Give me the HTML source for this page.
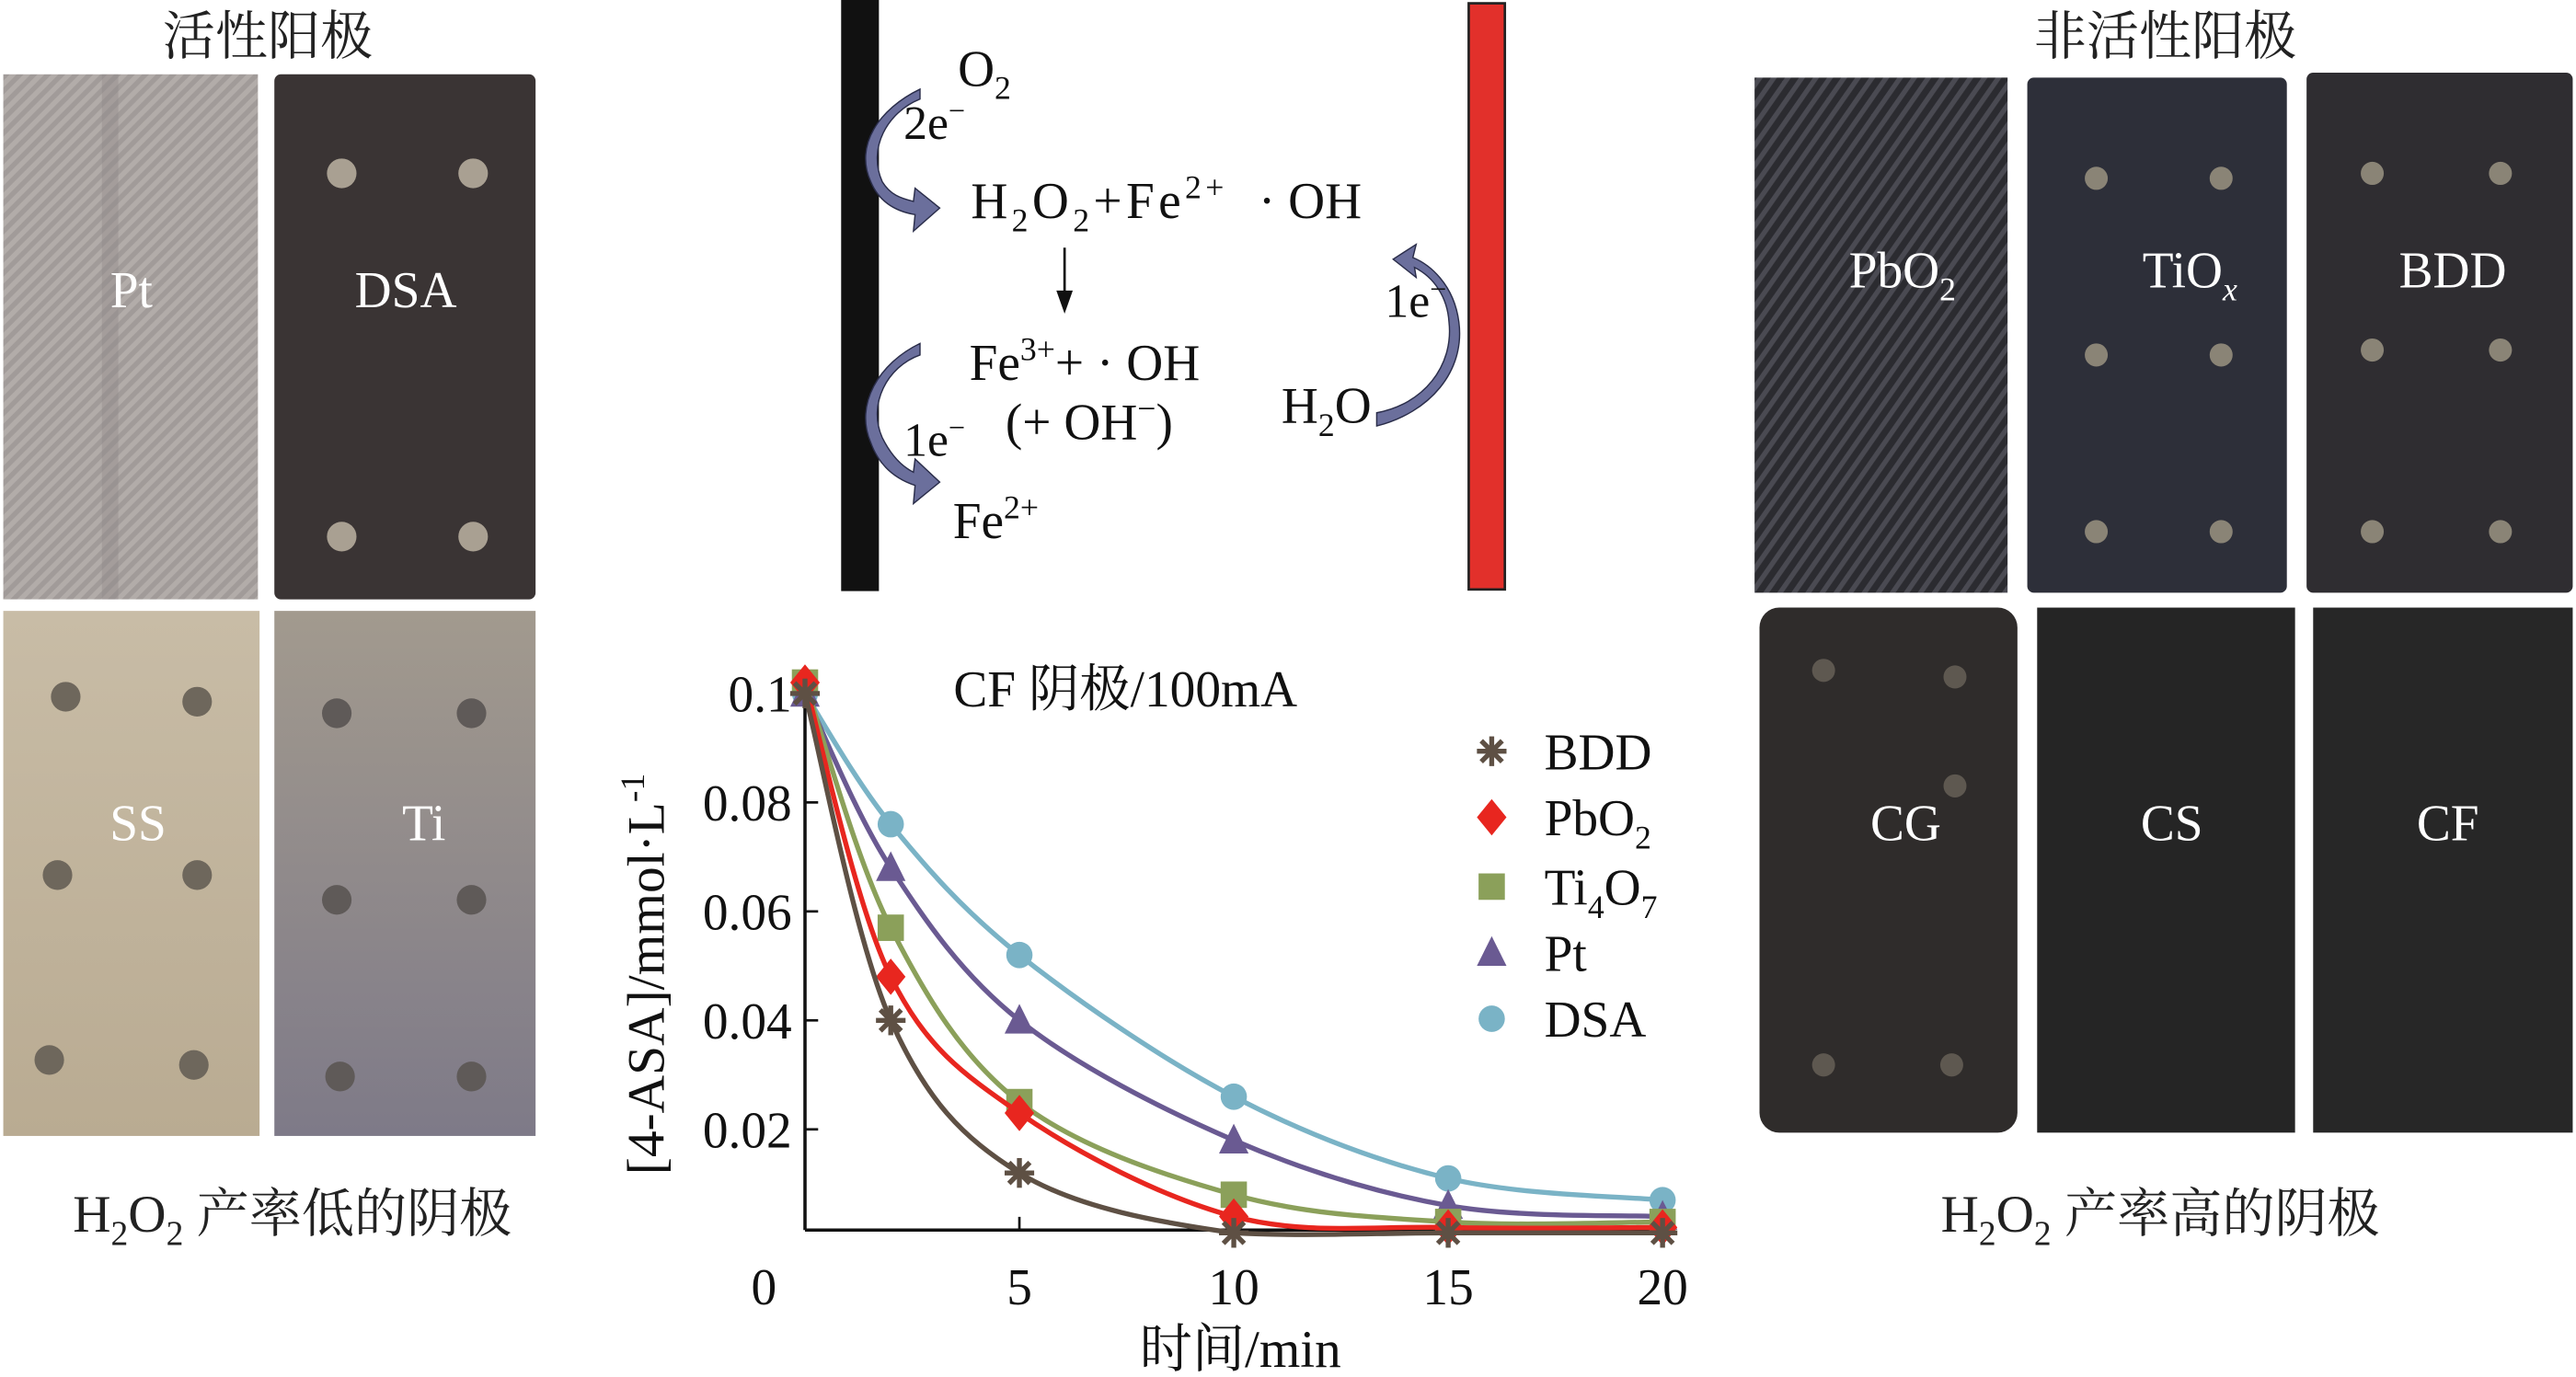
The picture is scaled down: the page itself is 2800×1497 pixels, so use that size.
<!DOCTYPE html>
<html><head><meta charset="utf-8">
<style>
html,body{margin:0;padding:0;background:#fff;}
svg{display:block;}
text{font-family:"Liberation Serif","Noto Serif CJK SC",serif;}
</style></head>
<body>
<svg id="root" width="2800" height="1497" viewBox="0 0 1568 834" preserveAspectRatio="none" xmlns="http://www.w3.org/2000/svg">
<defs>
<pattern id="weave" width="6" height="6" patternUnits="userSpaceOnUse" patternTransform="rotate(45)">
<rect width="6" height="6" fill="#a19b99"/><rect width="3" height="6" fill="#b2aca9"/></pattern>
<pattern id="weave2" width="7" height="7" patternUnits="userSpaceOnUse" patternTransform="rotate(35)">
<rect width="7" height="7" fill="#2b2b30"/><rect width="3" height="7" fill="#4a4a52"/></pattern>
<linearGradient id="ssg" x1="0" y1="0" x2="0" y2="1"><stop offset="0" stop-color="#c8bca6"/><stop offset="1" stop-color="#b9ab92"/></linearGradient>
<linearGradient id="tig" x1="0" y1="0" x2="0" y2="1"><stop offset="0" stop-color="#a29a8e"/><stop offset="1" stop-color="#7e7a88"/></linearGradient>
</defs>

<text x="163" y="33" font-size="32" text-anchor="middle" fill="#222">活性阳极</text>
<g>
<rect x="2" y="45" width="155" height="318" fill="url(#weave)"/>
<rect x="62" y="45" width="10" height="318" fill="#8f8886" opacity="0.4"/>
<text x="80" y="186" font-size="31" fill="#fff" text-anchor="middle">Pt</text></g>
<g>
<rect x="167" y="45" width="159" height="318" rx="4" fill="#3a3434"/>
<circle cx="208" cy="105" r="9" fill="#a9a092"/><circle cx="288" cy="105" r="9" fill="#a9a092"/>
<circle cx="208" cy="325" r="9" fill="#a9a092"/><circle cx="288" cy="325" r="9" fill="#a9a092"/>
<text x="247" y="186" font-size="31" fill="#fff" text-anchor="middle">DSA</text></g>
<g>
<rect x="2" y="370" width="156" height="318" fill="url(#ssg)"/>
<circle cx="40" cy="422" r="9" fill="#6e675c"/><circle cx="120" cy="425" r="9" fill="#6e675c"/>
<circle cx="35" cy="530" r="9" fill="#6e675c"/><circle cx="120" cy="530" r="9" fill="#6e675c"/>
<circle cx="30" cy="642" r="9" fill="#6e675c"/><circle cx="118" cy="645" r="9" fill="#6e675c"/>
<text x="84" y="509" font-size="31" fill="#fff" text-anchor="middle">SS</text></g>
<g>
<rect x="167" y="370" width="159" height="318" fill="url(#tig)"/>
<circle cx="205" cy="432" r="9" fill="#5f5a58"/><circle cx="287" cy="432" r="9" fill="#5f5a58"/>
<circle cx="205" cy="545" r="9" fill="#5f5a58"/><circle cx="287" cy="545" r="9" fill="#5f5a58"/>
<circle cx="207" cy="652" r="9" fill="#5f5a58"/><circle cx="287" cy="652" r="9" fill="#5f5a58"/>
<text x="258" y="509" font-size="31" fill="#fff" text-anchor="middle">Ti</text></g>
<text x="178" y="746" font-size="32" text-anchor="middle" fill="#222">H<tspan font-size="21" dy="8">2</tspan><tspan dy="-8">O</tspan><tspan font-size="21" dy="8">2</tspan><tspan dy="-8"> 产率低的阴极</tspan></text>

<text x="1318" y="33" font-size="32" text-anchor="middle" fill="#222">非活性阳极</text>
<g>
<rect x="1068" y="47" width="154" height="312" fill="url(#weave2)"/>
<text x="1158" y="174" font-size="31" fill="#fff" text-anchor="middle">PbO<tspan font-size="20" dy="8">2</tspan></text></g>
<g>
<rect x="1234" y="47" width="158" height="312" rx="4" fill="#2d2f39"/>
<circle cx="1276" cy="108" r="7" fill="#8a8476"/><circle cx="1352" cy="108" r="7" fill="#8a8476"/>
<circle cx="1276" cy="215" r="7" fill="#8a8476"/><circle cx="1352" cy="215" r="7" fill="#8a8476"/>
<circle cx="1276" cy="322" r="7" fill="#8a8476"/><circle cx="1352" cy="322" r="7" fill="#8a8476"/>
<text x="1333" y="174" font-size="31" fill="#fff" text-anchor="middle">TiO<tspan font-size="20" dy="8" font-style="italic">x</tspan></text></g>
<g>
<rect x="1404" y="44" width="162" height="315" rx="4" fill="#2f2d31"/>
<circle cx="1444" cy="105" r="7" fill="#8a8476"/><circle cx="1522" cy="105" r="7" fill="#8a8476"/>
<circle cx="1444" cy="212" r="7" fill="#8a8476"/><circle cx="1522" cy="212" r="7" fill="#8a8476"/>
<circle cx="1444" cy="322" r="7" fill="#8a8476"/><circle cx="1522" cy="322" r="7" fill="#8a8476"/>
<text x="1493" y="174" font-size="31" fill="#fff" text-anchor="middle">BDD</text></g>
<g>
<rect x="1071" y="368" width="157" height="318" rx="12" fill="#2f2c2b"/>
<circle cx="1110" cy="406" r="7" fill="#5e5850"/><circle cx="1190" cy="410" r="7" fill="#5e5850"/>
<circle cx="1190" cy="476" r="7" fill="#5e5850"/><circle cx="1110" cy="645" r="7" fill="#5e5850"/><circle cx="1188" cy="645" r="7" fill="#5e5850"/>
<text x="1160" y="509" font-size="31" fill="#fff" text-anchor="middle">CG</text></g>
<g>
<rect x="1240" y="368" width="157" height="318" fill="#252525"/>
<text x="1322" y="509" font-size="31" fill="#fff" text-anchor="middle">CS</text></g>
<g>
<rect x="1408" y="368" width="158" height="318" fill="#272727"/>
<text x="1490" y="509" font-size="31" fill="#fff" text-anchor="middle">CF</text></g>
<text x="1315" y="746" font-size="32" text-anchor="middle" fill="#222">H<tspan font-size="21" dy="8">2</tspan><tspan dy="-8">O</tspan><tspan font-size="21" dy="8">2</tspan><tspan dy="-8"> 产率高的阴极</tspan></text>

<g fill="#111">
<rect x="512" y="0" width="23" height="358" fill="#111"/>
<rect x="894" y="2" width="22" height="355" fill="#e2302b" stroke="#222" stroke-width="1.5"/>
<g fill="#6b6f9c" stroke="#2a2d4a" stroke-width="0.8">
<path d="M560,60 C540,68 528,90 537,110 C542,118 548,120 556,122 L557,114 L572,126 L556,140 L557,130 C545,128 535,122 530,110 C520,88 535,66 560,54 Z"/>
<path d="M560,215 C540,222 528,245 537,265 C542,275 548,282 556,286 L557,278 L572,292 L556,305 L557,294 C545,290 535,282 530,268 C520,245 535,220 560,208 Z"/>
<path d="M838,258 C870,250 892,225 888,195 C885,172 870,160 860,156 L862,148 L848,157 L862,168 L861,162 C873,168 881,180 882,195 C885,222 866,245 838,250 Z"/>
</g>
<text x="583" y="52" font-size="31">O<tspan font-size="20" dy="8">2</tspan></text>
<text x="550" y="84" font-size="29">2e<tspan font-size="18" dy="-11">−</tspan></text>
<text x="591" y="132" font-size="31" textLength="154">H<tspan font-size="20" dy="8">2</tspan><tspan dy="-8">O</tspan><tspan font-size="20" dy="8">2</tspan><tspan dy="-8">+Fe</tspan><tspan font-size="20" dy="-12">2+</tspan></text>
<text x="766" y="132" font-size="31">· OH</text>
<line x1="648" y1="150" x2="648" y2="183" stroke="#111" stroke-width="1.5"/>
<path d="M643,176 L648,190 L653,176 Z"/>
<text x="590" y="230" font-size="31">Fe<tspan font-size="20" dy="-12">3+</tspan><tspan dy="12">+ · OH</tspan></text>
<text x="612" y="266" font-size="31">(+ OH<tspan font-size="20" dy="-12">−</tspan><tspan dy="12">)</tspan></text>
<text x="550" y="276" font-size="29">1e<tspan font-size="18" dy="-11">−</tspan></text>
<text x="580" y="326" font-size="31">Fe<tspan font-size="20" dy="-12">2+</tspan></text>
<text x="843" y="192" font-size="29">1e<tspan font-size="18" dy="-11">−</tspan></text>
<text x="780" y="256" font-size="31">H<tspan font-size="20" dy="8">2</tspan><tspan dy="-8">O</tspan></text>
</g>

<g id="chart"></g>
</svg>
<script>
const times = [0, 2, 5, 10, 15, 20];
const seriesNames = ["BDD", "PbO2", "Ti4O7", "Pt", "DSA"];
const bddValues = [0.100, 0.040, 0.012, 0.001, 0.001, 0.001];
const pbo2Values = [0.102, 0.048, 0.023, 0.004, 0.002, 0.002];
const ti4o7Values = [0.102, 0.057, 0.025, 0.008, 0.003, 0.003];
const ptValues = [0.100, 0.068, 0.040, 0.018, 0.006, 0.004];
const dsaValues = [0.100, 0.076, 0.052, 0.026, 0.011, 0.007];
const yTicks = [0.02, 0.04, 0.06, 0.08, 0.1];
const yTickLabels = ["0.02", "0.04", "0.06", "0.08", "0.1"];
const xTicks = [0, 5, 10, 15, 20];
const xTickLabels = ["0", "5", "10", "15", "20"];

const NS = "http://www.w3.org/2000/svg";
const g = document.getElementById("chart");
const X0 = 490, X1 = 1012, Y0 = 750, YTOP = 420;
const xs = t => X0 + (t / 20) * (X1 - X0);
const ys = v => Y0 - (v / 0.1) * (Y0 - YTOP);
function mk(tag, attrs, parent) {
  const e = document.createElementNS(NS, tag);
  for (const k in attrs) e.setAttribute(k, attrs[k]);
  (parent || g).appendChild(e);
  return e;
}
const colors = ["#5e5044", "#e8261f", "#8ba05a", "#6a5a92", "#7ab3c6"];
const allValues = [bddValues, pbo2Values, ti4o7Values, ptValues, dsaValues];

let ax = mk("line", {x1: X0, y1: 745, x2: X1 + 4, y2: 745, stroke: "#111", "stroke-width": 2});


let ay = mk("line", {x1: X0, y1: 745, x2: X0, y2: 408, stroke: "#111", "stroke-width": 2});



yTicks.forEach((v, i) => {
  const tk = mk("line", {x1: X0, y1: ys(v), x2: X0 + 8, y2: ys(v), stroke: "#111", "stroke-width": 1.5});
  
  
  const t = mk("text", {x: X0 - 8, y: ys(v) + 11, "font-size": 31, "text-anchor": "end", fill: "#111"});
  t.textContent = yTickLabels[i];
  
  
});
xTicks.forEach((v, i) => {
  if (v > 0) {
    const tk = mk("line", {x1: xs(v), y1: 745, x2: xs(v), y2: 737, stroke: "#111", "stroke-width": 1.5});
    
    
  }
  const t = mk("text", {x: v === 0 ? xs(v) - 25 : xs(v), y: 790, "font-size": 31, "text-anchor": "middle", fill: "#111"});
  t.textContent = xTickLabels[i];
  
  
});
let xt = mk("text", {x: 755, y: 828, "font-size": 32, "text-anchor": "middle", fill: "#111"});
xt.textContent = "时间/min";


let yt = mk("text", {x: 0, y: 0, "font-size": 32, "text-anchor": "middle", fill: "#111", transform: "translate(404,590) rotate(-90)"});
yt.textContent = "[4-ASA]/mmol·L";
const sup = mk("tspan", {"font-size": 21, dy: -12}, yt); sup.textContent = "-1";


let ct = mk("text", {x: 685, y: 428, "font-size": 31, "text-anchor": "middle", fill: "#111"});
ct.textContent = "CF 阴极/100mA";



function curvePath(vals) {
  const p = times.map((t, i) => [xs(t), ys(vals[i])]);
  let d = "M" + p[0][0] + "," + p[0][1];
  for (let i = 0; i < p.length - 1; i++) {
    const p0 = p[Math.max(0, i - 1)], p1 = p[i], p2 = p[i + 1], p3 = p[Math.min(p.length - 1, i + 2)];
    const c1x = p1[0] + (p2[0] - p0[0]) / 6, c1y = Math.min(p1[1] + (p2[1] - p0[1]) / 6, Y0 - 1);
    const c2x = p2[0] - (p3[0] - p1[0]) / 6, c2y = Math.min(p2[1] - (p3[1] - p1[1]) / 6, Y0 - 1);
    d += " C" + c1x + "," + c1y + " " + c2x + "," + c2y + " " + p2[0] + "," + p2[1];
  }
  return d;
}
function marker(kind, x, y, color, parent) {
  let e;
  if (kind === 0) {
    e = mk("g", {stroke: color, "stroke-width": 3}, parent);
    for (let a = 0; a < 4; a++) {
      const ang = a * Math.PI / 4;
      mk("line", {x1: x - 9 * Math.cos(ang), y1: y - 9 * Math.sin(ang), x2: x + 9 * Math.cos(ang), y2: y + 9 * Math.sin(ang)}, e);
    }
  } else if (kind === 1) {
    e = mk("path", {d: `M${x},${y-11} L${x+9},${y} L${x},${y+11} L${x-9},${y} Z`, fill: color}, parent);
  } else if (kind === 2) {
    e = mk("rect", {x: x - 8, y: y - 8, width: 16, height: 16, fill: color}, parent);
  } else if (kind === 3) {
    e = mk("path", {d: `M${x},${y-10} L${x+9},${y+8} L${x-9},${y+8} Z`, fill: color}, parent);
  } else {
    e = mk("circle", {cx: x, cy: y, r: 8, fill: color}, parent);
  }
  return e;
}
const drawOrder = [4, 3, 2, 1, 0];
drawOrder.forEach(s => {
  const sg = mk("g", {});
  
  
  const line = mk("path", {d: curvePath(allValues[s]), fill: "none", stroke: colors[s], "stroke-width": 3}, sg);
  
  
  times.forEach((t, i) => {
    const m = marker(s, xs(t), ys(allValues[s][i]), colors[s], sg);
    
    
  });
});

const legY = [455, 495, 537, 577, 617];
seriesNames.forEach((n, s) => {
  const lg = mk("g", {});
  
  
  marker(s, 908, legY[s], colors[s], lg);
  const t = mk("text", {x: 940, y: legY[s] + 11, "font-size": 31, fill: "#111"}, lg);
  if (n === "PbO2") { t.textContent = "PbO"; const s2 = mk("tspan", {"font-size": 20, dy: 8}, t); s2.textContent = "2"; }
  else if (n === "Ti4O7") { t.textContent = " Ti"; const a = mk("tspan", {"font-size": 20, dy: 8}, t); a.textContent = "4"; const b = mk("tspan", {dy: -8}, t); b.textContent = "O"; const c = mk("tspan", {"font-size": 20, dy: 8}, t); c.textContent = "7"; }
  else t.textContent = n;
});
</script>
</body></html>
